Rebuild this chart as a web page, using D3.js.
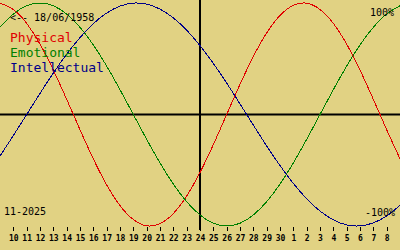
<!DOCTYPE html>
<html>
<head>
<meta charset="utf-8">
<script src="https://cdn.jsdelivr.net/npm/d3@7"></script>
<style>
    body { margin: 0; background: #e1d283; }
    svg { display: block; }
    text { font-family: "DejaVu Sans Mono", monospace; }
</style>
</head>
<body>
<svg width="400" height="250"></svg>
<script>
const birth_date = "18/06/1958"
const month_label = "11-2025"

// day offsets from today (24/11), one value per day
const day_offsets = [-15, -14, -13, -12, -11, -10, -9, -8, -7, -6, -5, -4, -3, -2, -1, 0,
    1, 2, 3, 4, 5, 6, 7, 8, 9, 10, 11, 12, 13, 14, 15]

const physical = [0.998, 0.942, 0.817, 0.631, 0.398, 0.136, -0.136, -0.398, -0.631, -0.817, -0.942,
    -0.998, -0.979, -0.888, -0.731, -0.520, -0.270, 0, 0.270, 0.520, 0.731, 0.888, 0.979, 0.998,
    0.942, 0.817, 0.631, 0.398, 0.136, -0.136, -0.398]
const emotional = [0.782, 0.901, 0.975, 1, 0.975, 0.901, 0.782, 0.624, 0.434, 0.223, 0,
    -0.223, -0.434, -0.624, -0.782, -0.901, -0.975, -1, -0.975, -0.901, -0.782, -0.624, -0.434,
    -0.223, 0, 0.223, 0.434, 0.624, 0.782, 0.901, 0.975]
const intellectual = [-0.372, -0.189, 0, 0.189, 0.372, 0.541, 0.690, 0.815, 0.910, 0.972, 0.999,
    0.990, 0.945, 0.866, 0.756, 0.618, 0.458, 0.282, 0.095, -0.095, -0.282, -0.458, -0.618,
    -0.756, -0.866, -0.945, -0.990, -0.999, -0.972, -0.910, -0.815]

const tick_offsets = [-14, -13, -12, -11, -10, -9, -8, -7, -6, -5, -4, -3, -2, -1, 0,
    1, 2, 3, 4, 5, 6, 7, 8, 9, 10, 11, 12, 13, 14]
const tick_labels = ["10", "11", "12", "13", "14", "15", "16", "17", "18", "19", "20", "21", "22",
    "23", "24", "25", "26", "27", "28", "29", "30", "1", "2", "3", "4", "5", "6", "7", "8"]

const series = [
    {name: "Physical", values: physical, color: "#e00000"},
    {name: "Emotional", values: emotional, color: "#008000"},
    {name: "Intellectual", values: intellectual, color: "#000088"},
]

const svg = d3.select("svg")
const x = d3.scaleLinear().domain([-15, 15]).range([0, 400])
const y = d3.scaleLinear().domain([-1, 1]).range([226, 3])

// cross hairs
svg.append("line")
    .attr("x1", 0).attr("x2", 400)
    .attr("y1", y(0)).attr("y2", y(0))
    .attr("stroke", "#000").attr("stroke-width", 2)
svg.append("line")
    .attr("x1", x(0)).attr("x2", x(0))
    .attr("y1", 0).attr("y2", 230)
    .attr("stroke", "#000").attr("stroke-width", 2)

const line = d3.line()
    .x((d, i) => x(day_offsets[i]))
    .y(d => y(d))
    .curve(d3.curveNatural)

svg.append("g")
    .selectAll("path")
    .data(series)
    .enter()
    .append("path")
    .attr("d", d => line(d.values))
    .attr("fill", "none")
    .attr("stroke", d => d.color)
    .attr("stroke-width", 1)
    .attr("shape-rendering", "crispEdges")

// day axis
const axis = d3.axisBottom(x)
    .tickValues(tick_offsets)
    .tickFormat((d, i) => tick_labels[i])
    .tickSize(4)
    .tickPadding(4)

const ax = svg.append("g")
    .attr("transform", "translate(0,227)")
    .call(axis)
ax.select(".domain").remove()
ax.selectAll("line").attr("stroke", "#000").attr("shape-rendering", "crispEdges")
ax.selectAll("text")
    .attr("fill", "#000")
    .style("font-family", "'DejaVu Sans Mono', monospace")
    .style("font-size", "8px")
    .style("font-weight", "bold")

// labels
svg.append("text")
    .attr("x", 10).attr("y", 21)
    .style("font-size", "10px")
    .text("<-- " + birth_date)

svg.append("g")
    .selectAll("text")
    .data(series)
    .enter()
    .append("text")
    .attr("x", 10)
    .attr("y", (d, i) => 42 + i * 15)
    .attr("fill", d => d.color)
    .style("font-size", "13px")
    .text(d => d.name)

svg.append("text")
    .attr("x", 394).attr("y", 16)
    .attr("text-anchor", "end")
    .style("font-size", "10px")
    .text("100%")
svg.append("text")
    .attr("x", 395).attr("y", 216)
    .attr("text-anchor", "end")
    .style("font-size", "10px")
    .text("-100%")
svg.append("text")
    .attr("x", 4).attr("y", 215)
    .style("font-size", "10px")
    .text(month_label)
</script>
</body>
</html>
